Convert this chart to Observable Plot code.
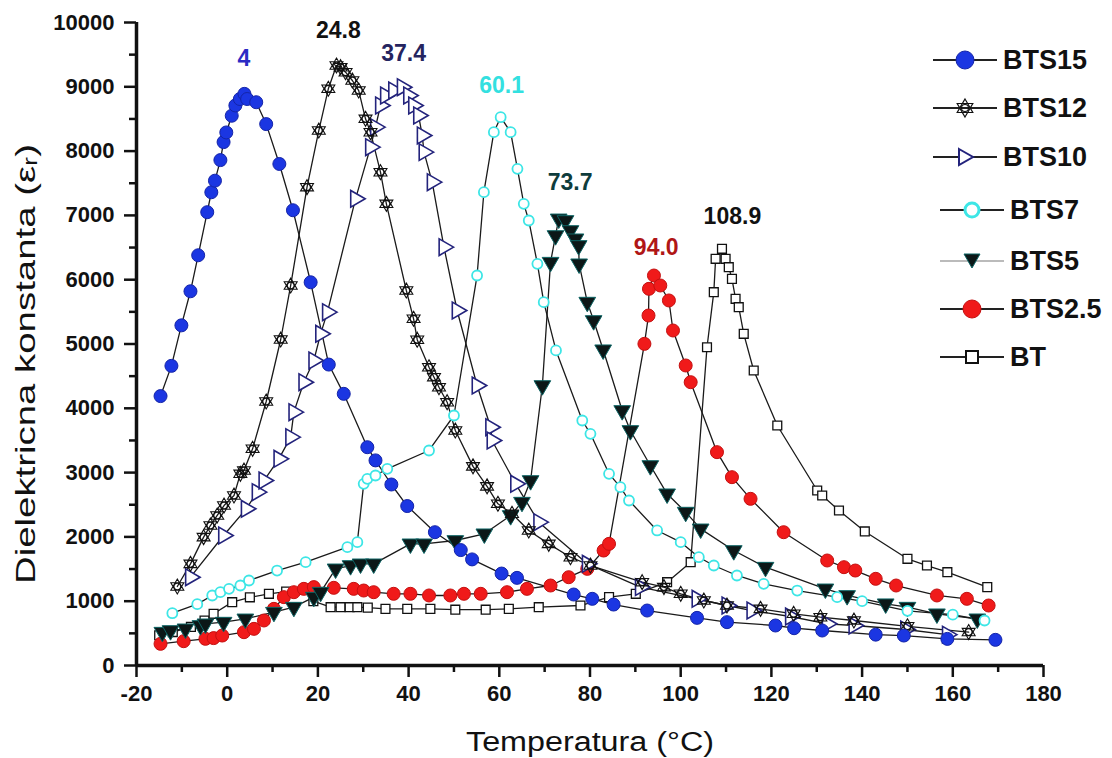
<!DOCTYPE html>
<html>
<head>
<meta charset="utf-8">
<script src="https://cdn.jsdelivr.net/npm/d3@7"></script>
<script src="https://cdn.jsdelivr.net/npm/@observablehq/plot@0.6"></script>
<style>
  html, body { margin: 0; padding: 0; background: #fff; }
  #wrap { position: relative; width: 1112px; height: 758px; font-family: "Liberation Sans", Arial, sans-serif; }
  #legend { position: absolute; left: 0; top: 0; }
  .lrow { position: absolute; display: flex; align-items: center; height: 30px; }
  .lrow span { font-size: 27px; font-weight: bold; color: #111; margin-left: 4px; line-height: 30px; }
</style>
</head>
<body>
<div id="wrap"><div id="chart"></div><div id="legend"></div></div>
<script>
// ---------- data ----------
const seriesNames = ["BTS15", "BTS12", "BTS10", "BTS7", "BTS5", "BTS2.5", "BT"];

const bts15T = [-14.7,-12.3,-10.1,-8.1,-6.4,-4.4,-3.5,-2.7,-1.5,-0.8,-0.2,1.0,1.8,2.8,3.8,4.4,6.4,8.6,11.5,14.5,18.4,22.4,25.7,30.9,32.7,36.2,39.7,45.8,51.5,54.0,60.5,63.9,76.4,80.5,85.2,92.6,103.6,110.2,120.9,125.0,131.2,143.0,149.2,158.8,169.4];
const bts15E = [4190,4660,5290,5820,6380,7050,7360,7540,7860,8140,8290,8550,8710,8810,8890,8810,8760,8420,7800,7080,5960,4680,4225,3395,3190,2815,2480,2073,1795,1650,1430,1363,1104,1037,948,855,741,674,622,580,544,480,466,414,399];

const bts12T = [-11.0,-8.1,-5.2,-3.7,-2.2,-0.7,1.5,2.9,3.7,5.6,8.6,11.8,14.0,17.6,20.2,22.3,24.1,25.0,26.1,27.6,29.0,30.5,31.6,33.8,35.1,39.5,41.1,41.9,44.5,45.6,46.7,48.5,50.3,54.2,57.3,59.7,62.8,66.5,70.9,75.7,80.1,91.5,96.3,100.0,105.1,110.2,117.6,124.9,130.8,138.2,150.0,163.5];
const bts12E = [1229,1581,1996,2177,2333,2488,2644,2981,3033,3370,4106,5070,5910,7439,8320,8969,9331,9305,9227,9098,8942,8502,8294,7672,7180,5832,5392,5067,4639,4484,4328,4095,3655,3097,2786,2515,2359,2100,1892,1684,1555,1296,1219,1115,1011,933,881,804,751,700,610,520];

const bts10T = [-8.1,-0.8,4.2,6.6,8.1,11.4,14.0,14.7,16.9,19.1,20.6,22.1,28.3,31.6,32.7,33.8,34.9,36.7,38.6,40.0,41.1,42.2,43.0,43.4,45.2,47.8,50.7,55.1,58.1,58.4,63.6,68.7,79.4,91.1,103.6,110.2,115.7,124.2,132.3,138.2,149.6,158.8];
const bts10E = [1373,2022,2437,2696,2877,3214,3551,3940,4406,4743,5158,5495,7258,8061,8372,8709,8865,8942,8994,8865,8709,8554,8243,7984,7517,6506,5521,4354,3706,3499,2825,2229,1581,1219,1037,933,855,762,648,622,560,480];

const bts7T = [-12.1,-6.6,-3.3,-1.5,0.4,2.9,4.8,11.0,17.3,26.5,28.7,30.1,30.9,32.7,35.3,44.5,50.0,55.1,56.6,58.8,60.3,62.5,64.0,65.4,66.5,68.4,69.8,72.5,78.3,80.1,84.2,86.7,88.6,94.8,100.0,104.0,107.3,112.4,118.3,125.7,134.5,140.0,150.0,160.0,167.0];
const bts7E = [813,954,1089,1140,1192,1244,1322,1477,1607,1840,1918,2825,2903,2955,3059,3344,3888,6065,7361,8294,8527,8294,7724,7180,6921,6247,5651,4900,3810,3603,2981,2773,2566,2100,1918,1684,1555,1400,1270,1166,1063,1000,850,790,700];

const bts5T = [-14.3,-12.5,-9.2,-5.9,-4.8,-0.8,4.0,10.3,14.7,19.1,20.6,23.9,27.2,29.4,32.3,40.4,43.4,50.3,56.7,62.5,65.0,66.9,69.5,71.3,72.4,73.1,74.6,75.7,76.8,77.5,77.6,79.4,80.8,82.9,87.1,88.9,93.3,97.0,101.1,104.4,111.7,118.7,131.9,136.7,145.2,150.0,156.5,165.4];
const bts5E = [518,544,570,622,648,674,725,829,907,1063,1140,1503,1555,1581,1581,1892,1892,1944,2048,2333,2540,2877,4354,6272,6687,6946,6921,6765,6636,6532,6247,5651,5365,4910,3966,3655,3110,2670,2385,2125,1788,1529,1192,1089,960,907,804,726];

const bts25T = [-14.7,-9.6,-4.8,-3.0,-1.1,3.7,5.9,8.1,10.3,12.5,14.7,16.9,19.1,23.5,27.9,30.1,32.3,36.7,40.4,44.5,49.2,52.2,55.9,61.7,66.1,71.3,75.3,79.4,83.0,84.2,92.0,92.9,93.0,94.1,95.5,97.4,98.3,101.1,102.2,108.0,111.3,115.4,122.7,132.3,136.0,138.5,143.0,147.5,156.5,163.1,167.9];
const bts25E = [337,378,415,426,466,518,570,700,881,1063,1140,1192,1219,1208,1192,1166,1140,1115,1115,1089,1089,1115,1115,1140,1192,1244,1373,1503,1788,1892,5002,5443,5858,6065,5910,5677,5210,4666,4406,3318,2929,2592,2073,1633,1529,1477,1348,1244,1089,1037,933];

const btT = [-15.0,-12.0,-8.0,-5.0,-3.0,1.1,5.0,9.2,13.0,17.0,19.0,22.8,25.0,27.0,28.7,31.0,34.9,39.7,44.8,50.3,57.0,62.1,68.7,77.9,84.2,90.1,97.0,102.2,105.8,107.3,107.7,109.1,109.9,110.6,111.3,112.1,112.8,113.9,116.1,121.3,130.1,131.2,134.9,140.6,150.0,154.3,158.8,167.6];
const btE = [470,520,600,700,804,985,1060,1115,1150,1180,1000,907,907,907,907,900,881,881,881,868,868,881,907,933,1063,1115,1296,1607,4950,5806,6325,6480,6325,6195,6013,5703,5573,5158,4588,3733,2722,2644,2411,2085,1659,1555,1451,1219];

// peak annotations
const peakText = ["4", "24.8", "37.4", "60.1", "73.7", "94.0", "108.9"];
const peakX = [3.7, 24.5, 38.9, 60.5, 75.6, 94.6, 111.4];
const peakY = [9440, 9880, 9510, 9020, 7510, 6500, 6980];

// axis ticks
const xMajor = [-20, 0, 20, 40, 60, 80, 100, 120, 140, 160, 180];
const xMinor = [-10, 10, 30, 50, 70, 90, 110, 130, 150, 170];
const yMajor = [0, 1000, 2000, 3000, 4000, 5000, 6000, 7000, 8000, 9000, 10000];
const yMinor = [500, 1500, 2500, 3500, 4500, 5500, 6500, 7500, 8500, 9500];

// ---------- styles ----------
const hexagram = {
  draw(ctx, size) {
    const r = Math.sqrt(size / Math.PI) * 1.15;
    for (const off of [-Math.PI / 2, Math.PI / 2]) {
      for (let i = 0; i < 3; i++) {
        const a = off + i * 2 * Math.PI / 3;
        const px = r * Math.cos(a), py = r * Math.sin(a);
        if (i === 0) ctx.moveTo(px, py); else ctx.lineTo(px, py);
      }
      ctx.closePath();
    }
    const c = r * 0.45;
    ctx.moveTo(c, 0);
    ctx.arc(0, 0, c, 0, 2 * Math.PI);
  }
};

const styles = {
  "BTS15": {symbol: "circle", r: 6.5, fill: "#1b36e2", stroke: "#1424a8", strokeWidth: 1, rotate: 0},
  "BTS12": {symbol: hexagram, r: 6.5, fill: "none", stroke: "#111", strokeWidth: 1.1, rotate: 0},
  "BTS10": {symbol: "triangle", r: 6.2, fill: "white", stroke: "#23237c", strokeWidth: 1.6, rotate: 90},
  "BTS7": {symbol: "circle", r: 5, fill: "white", stroke: "#3de6e6", strokeWidth: 1.8, rotate: 0},
  "BTS5": {symbol: "triangle", r: 6.2, fill: "#0c1717", stroke: "#0d6464", strokeWidth: 1, rotate: 180},
  "BTS2.5": {symbol: "circle", r: 6.5, fill: "#f01a1a", stroke: "#c41010", strokeWidth: 1, rotate: 0},
  "BT": {symbol: "square", r: 5, fill: "white", stroke: "#111", strokeWidth: 1.3, rotate: 0}
};
const peakColors = ["#2b2bc4", "#111", "#25245f", "#33e0e0", "#0e3c3c", "#b01616", "#111"];

// ---------- build table ----------
const seriesT = [bts15T, bts12T, bts10T, bts7T, bts5T, bts25T, btT];
const seriesE = [bts15E, bts12E, bts10E, bts7E, bts5E, bts25E, btE];
const rows = seriesNames.flatMap((name, i) => seriesT[i].map((t, j) => ({series: name, T: t, E: seriesE[i][j]})));
const peaks = peakText.map((t, i) => ({text: t, x: peakX[i], y: peakY[i], color: peakColors[i]}));

const drawOrder = ["BT", "BTS2.5", "BTS5", "BTS7", "BTS10", "BTS12", "BTS15"];
const dotMarks = drawOrder.map(name => {
  const s = styles[name];
  return Plot.dot(rows.filter(d => d.series === name), {
    x: "T", y: "E", symbol: () => s.symbol, r: s.r, fill: s.fill, stroke: s.stroke,
    strokeWidth: s.strokeWidth, rotate: s.rotate
  });
});

const fmt = d => String(d);
const chart = Plot.plot({
  width: 1112,
  height: 758,
  marginLeft: 136,
  marginRight: 69,
  marginTop: 22,
  marginBottom: 93,
  style: {fontFamily: "'Liberation Sans', Arial, sans-serif", background: "white", color: "#111"},
  x: {domain: [-20, 180]},
  y: {domain: [0, 10000]},
  symbol: {type: "identity"},
  marks: [
    Plot.line(rows, {x: "T", y: "E", z: "series", stroke: "#1a1a1a", strokeWidth: 1.3}),
    ...dotMarks,
    Plot.text(peaks, {x: "x", y: "y", text: "text", fill: "color", fontSize: 23, fontWeight: 600, lineAnchor: "middle", textAnchor: "middle"}),
    Plot.axisX({ticks: xMinor, tickSize: 7, tickFormat: null, text: null, strokeWidth: 2.5, label: null}),
    Plot.axisX({ticks: xMajor, tickSize: 12, tickPadding: 8, tickFormat: fmt, fontSize: 22, fontWeight: 600, strokeWidth: 2.5, label: null}),
    Plot.axisY({ticks: yMinor, tickSize: 7, tickFormat: null, text: null, strokeWidth: 2.5, label: null}),
    Plot.axisY({ticks: yMajor, tickSize: 12, tickPadding: 10, tickFormat: fmt, fontSize: 22, fontWeight: 600, strokeWidth: 2.5, label: null}),
    Plot.ruleY([0], {strokeWidth: 3.5, stroke: "#111"}),
    Plot.ruleX([-20], {strokeWidth: 3.5, stroke: "#111"}),
    Plot.text(["Temperatura (°C)"], {frameAnchor: "bottom", dy: 77, fontSize: 27, lineAnchor: "middle", textAnchor: "middle", className: "xtitle"}),
    Plot.text(["Dielektricna konstanta (εᵣ)"], {frameAnchor: "left", dx: -110, dy: 20, rotate: -90, fontSize: 28, lineAnchor: "middle", textAnchor: "middle", className: "ytitle"})
  ]
});
document.getElementById("chart").appendChild(chart);

// stretch axis titles to the reference widths
chart.querySelectorAll(".xtitle text").forEach(t => { t.setAttribute("textLength", 248); t.setAttribute("lengthAdjust", "spacingAndGlyphs"); });
chart.querySelectorAll(".ytitle text").forEach(t => { t.setAttribute("textLength", 440); t.setAttribute("lengthAdjust", "spacingAndGlyphs"); });

// ---------- legend (HTML overlay) ----------
const legendTop = [60, 108, 157, 210, 261, 309, 357];
const legendLeft = [933, 933, 933, 940, 940, 940, 940];
const legendSym = {
  "BTS15": `<circle cx="32" cy="15" r="9" fill="#1b36e2" stroke="#1424a8"/>`,
  "BTS12": `<path d="M32,6 L39.8,19.5 L24.2,19.5 Z M32,24 L39.8,10.5 L24.2,10.5 Z" fill="white" stroke="#111" stroke-width="1.2"/><circle cx="32" cy="15" r="3.5" fill="none" stroke="#111" stroke-width="1.1"/>`,
  "BTS10": `<path d="M26,7 L40,15 L26,23 Z" fill="white" stroke="#23237c" stroke-width="2"/>`,
  "BTS7": `<circle cx="32" cy="15" r="7" fill="white" stroke="#3de6e6" stroke-width="3"/>`,
  "BTS5": `<path d="M24,8 L40,8 L32,22 Z" fill="#0c1717" stroke="#0d6464"/>`,
  "BTS2.5": `<circle cx="32" cy="15" r="9" fill="#f01a1a" stroke="#c41010"/>`,
  "BT": `<rect x="26" y="9" width="12" height="12" fill="white" stroke="#111" stroke-width="2"/>`
};
const leg = document.getElementById("legend");
seriesNames.forEach((name, i) => {
  const lineColor = name === "BTS5" ? "#bbb" : "#222";
  const div = document.createElement("div");
  div.className = "lrow";
  div.style.left = legendLeft[i] + "px";
  div.style.top = (legendTop[i] - 15) + "px";
  div.innerHTML = `<svg width="66" height="30"><line x1="0" y1="15" x2="64" y2="15" stroke="${lineColor}" stroke-width="2"/>${legendSym[name]}</svg><span>${name}</span>`;
  leg.appendChild(div);
});
</script>
</body>
</html>
